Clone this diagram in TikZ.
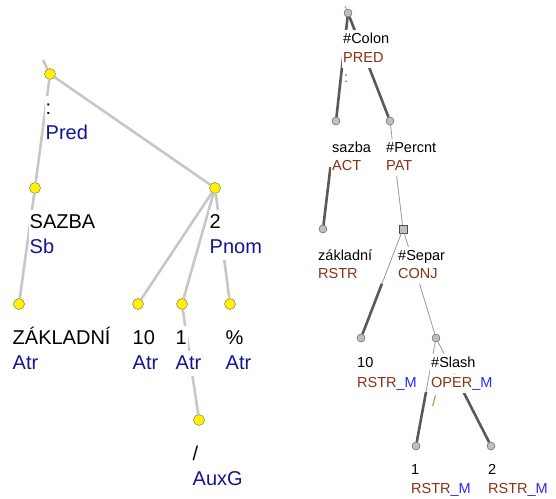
\documentclass[tikz,border=0pt]{standalone}
\usepackage{fontspec}
\setmainfont{Liberation Sans}
\usepackage{xcolor}
\usepackage{tikz}
\usetikzlibrary{positioning}

\definecolor{afunblue}{RGB}{20,20,150}
\definecolor{fbrown}{RGB}{135,50,20}
\definecolor{mblue}{RGB}{40,40,255}
\definecolor{colgreen}{RGB}{0,150,110}
\definecolor{slgreen}{RGB}{110,170,40}

\begin{document}
\begin{tikzpicture}[x=1pt, y=-1pt,
  anode/.style={circle, draw=black!60, fill=yellow, minimum size=11pt, inner sep=0pt},
  tnode/.style={circle, draw=black!70, fill=black!25, minimum size=8pt, inner sep=0pt},
  tsquare/.style={rectangle, draw=black!70, fill=black!25, minimum size=8pt, inner sep=0pt},
  aedge/.style={draw=black!22, line width=2.6pt},
  thickedge/.style={draw=black!65, line width=2.6pt},
  thinedge/.style={draw=black!40, line width=0.8pt},
  alab/.style={anchor=base west, fill=white, inner sep=1pt, text height=17pt, text depth=6pt,
    xshift=-1.5pt, font=\fontsize{20}{24}\selectfont},
  tlab/.style={anchor=base west, fill=white, inner sep=1.5pt, text height=12pt, text depth=4pt,
    xshift=-1.5pt, font=\fontsize{14.5}{17}\selectfont}]
  \useasboundingbox (0,0) rectangle (556,498);

  % Analytical tree (left)
  \coordinate (lroot) at (43,60);
  \node[anode] (lpred)  at (50,74)   {};
  \node[anode] (lsazba) at (35,188)  {};
  \node[anode] (ltwo)   at (215,188) {};
  \node[anode] (lzakl)  at (19,304)  {};
  \node[anode] (lten)   at (138,304) {};
  \node[anode] (lone)   at (182,304) {};
  \node[anode] (lperc)  at (230,304) {};
  \node[anode] (lslash) at (199,420) {};

  \draw[aedge] (lroot) -- (lpred);
  \draw[aedge] (lpred) -- (lsazba);
  \draw[aedge] (lpred) -- (ltwo);
  \draw[aedge] (lsazba) -- (lzakl);
  \draw[aedge] (ltwo) -- (lten);
  \draw[aedge] (ltwo) -- (lone);
  \draw[aedge] (ltwo) -- (lperc);
  \draw[aedge] (lone) -- (lslash);

  % forms and afuns
  \node[alab] (lpredw)  at ([shift={(-4,40)}]lpred.center)  {:};
  \node[alab, text=afunblue] (lpreda) at ([shift={(-4,65)}]lpred.center) {Pred};
  \node[alab] (lsazbaw) at ([shift={(-5,40)}]lsazba.center) {SAZBA};
  \node[alab, text=afunblue] (lsazbaa) at ([shift={(-5,65)}]lsazba.center) {Sb};
  \node[alab] (ltwow)   at ([shift={(-5,40)}]ltwo.center)   {2};
  \node[alab, text=afunblue] (ltwoa) at ([shift={(-5,65)}]ltwo.center) {Pnom};
  \node[alab] (lzaklw)  at ([shift={(-6,40)}]lzakl.center)  {ZÁKLADNÍ};
  \node[alab, text=afunblue] (lzakla) at ([shift={(-6,65)}]lzakl.center) {Atr};
  \node[alab] (ltenw)   at ([shift={(-5,40)}]lten.center)   {10};
  \node[alab, text=afunblue] (ltena) at ([shift={(-5,65)}]lten.center) {Atr};
  \node[alab] (lonew)   at ([shift={(-6,40)}]lone.center)   {1};
  \node[alab, text=afunblue] (lonea) at ([shift={(-6,65)}]lone.center) {Atr};
  \node[alab] (lpercw)  at ([shift={(-4,40)}]lperc.center)  {\%};
  \node[alab, text=afunblue] (lperca) at ([shift={(-4,65)}]lperc.center) {Atr};
  \node[alab] (lslashw) at ([shift={(-6,40)}]lslash.center) {/};
  \node[alab, text=afunblue] (lslasha) at ([shift={(-6,65)}]lslash.center) {AuxG};

  % Tectogrammatical tree (right)
  \coordinate (troot) at (345,6);
  \node[tnode]   (tcolon) at (348,13)  {};
  \node[tnode]   (tsazba) at (336,121) {};
  \node[tnode]   (tperc)  at (390,121) {};
  \node[tnode]   (tzakl)  at (323,229) {};
  \node[tsquare] (tsepar) at (403,229) {};
  \node[tnode]   (tten)   at (361,338) {};
  \node[tnode]   (tslash) at (436,338) {};
  \node[tnode]   (tone)   at (416,446) {};
  \node[tnode]   (ttwo)   at (491,446) {};

  \draw[thinedge] (troot) -- (tcolon);
  \draw[thickedge] (tcolon) -- (tsazba);
  \draw[thickedge] (tcolon) -- (tperc);
  \draw[thinedge] (tperc) -- (tsepar);
  \draw[thinedge] (tsepar) -- (tslash);
  % only the lower part of the RSTR edge shows
  \path (tsazba) -- (tzakl) coordinate[pos=0.42] (mzakl);
  \draw[thickedge] (mzakl) -- (tzakl);
  % members: thin upper half, thick lower half
  \path (tsepar) -- (tten) coordinate[pos=0.5] (mten);
  \path (tslash) -- (tone) coordinate[pos=0.5] (mone);
  \path (tslash) -- (ttwo) coordinate[pos=0.5] (mtwo);
  \draw[thinedge] (tsepar) -- (mten);
  \draw[thickedge] (mten) -- (tten);
  \draw[thinedge] (tslash) -- (mone);
  \draw[thickedge] (mone) -- (tone);
  \draw[thinedge] (tslash) -- (mtwo);
  \draw[thickedge] (mtwo) -- (ttwo);

  % t-lemmas and functors
  \node[tlab] (tcolonw) at ([shift={(-5,30)}]tcolon.center) {\#Colon};
  \node[tlab, text=fbrown] (tcolonf) at ([shift={(-5,49)}]tcolon.center) {PRED};
  \node[tlab, text=colgreen] (tcolonx) at ([shift={(-4,69)}]tcolon.center) {:};
  \node[tlab] (tsazbaw) at ([shift={(-4,31)}]tsazba.center) {sazba};
  \node[tlab, text=fbrown] (tsazbaf) at ([shift={(-4,49)}]tsazba.center) {ACT};
  \node[tlab] (tpercw)  at ([shift={(-4,31)}]tperc.center)  {\#Percnt};
  \node[tlab, text=fbrown] (tpercf) at ([shift={(-4,49)}]tperc.center) {PAT};
  \node[tlab] (tzaklw)  at ([shift={(-5,31)}]tzakl.center)  {základní};
  \node[tlab, text=fbrown] (tzaklf) at ([shift={(-5,49)}]tzakl.center) {RSTR};
  \node[tlab] (tseparw) at ([shift={(-5,31)}]tsepar.center) {\#Separ};
  \node[tlab, text=fbrown] (tseparf) at ([shift={(-5,49)}]tsepar.center) {CONJ};
  \node[tlab] (ttenw)   at ([shift={(-4,29)}]tten.center)   {10};
  \node[tlab] (ttenf)   at ([shift={(-4,49)}]tten.center)
    {\textcolor{fbrown}{RSTR}\textcolor{mblue}{\_M}};
  \node[tlab] (tslashw) at ([shift={(-5,29)}]tslash.center) {\#Slash};
  \node[tlab] (tslashf) at ([shift={(-5,49)}]tslash.center)
    {\textcolor{fbrown}{OPER}\textcolor{mblue}{\_M}};
  \node[tlab, text=slgreen] (tslashx) at ([shift={(-4,68)}]tslash.center) {/};
  \node[tlab] (tonew)   at ([shift={(-5,28)}]tone.center)   {1};
  \node[tlab] (tonef)   at ([shift={(-5,47)}]tone.center)
    {\textcolor{fbrown}{RSTR}\textcolor{mblue}{\_M}};
  \node[tlab] (ttwow)   at ([shift={(-3,28)}]ttwo.center)   {2};
  \node[tlab] (ttwof)   at ([shift={(-3,47)}]ttwo.center)
    {\textcolor{fbrown}{RSTR}\textcolor{mblue}{\_M}};
\end{tikzpicture}
\end{document}
